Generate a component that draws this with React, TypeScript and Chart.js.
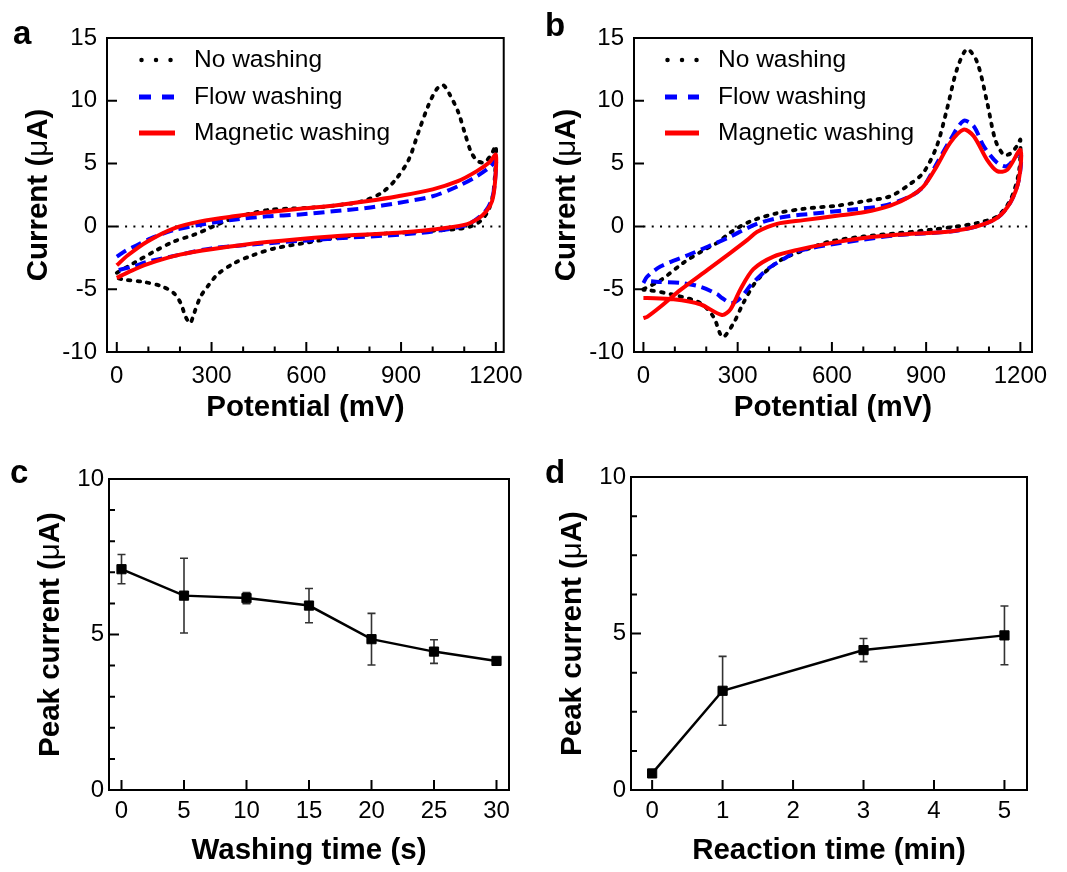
import React, { useEffect, useRef } from "react";
import { Chart, registerables } from "chart.js";

Chart.register(...registerables);

const FONT = '"Liberation Sans", Arial, Helvetica, sans-serif';

// ---------------- data ----------------
const seriesNames = ["No washing", "Flow washing", "Magnetic washing"];
const seriesColors = ["#000000", "#0000ff", "#ff0000"];

// Panel a – cyclic voltammograms (potential mV, current µA)
const aNoWashE = [0, 55, 118, 181, 244, 306, 369, 432, 484, 550, 600, 650, 700, 750, 790, 840, 882, 924, 955, 986, 1012, 1033, 1054, 1081, 1101, 1122, 1143, 1164, 1185, 1200, 1197, 1190, 1175, 1150, 1120, 1080, 1000, 900, 800, 700, 600, 500, 430, 370, 320, 290, 265, 245, 232, 218, 202, 180, 140, 80, 25, 0];
const aNoWashI = [-3.7, -2.9, -2.0, -1.2, -0.67, 0.0, 0.67, 1.07, 1.33, 1.42, 1.47, 1.55, 1.7, 1.85, 2.1, 2.7, 3.7, 5.3, 7.5, 9.6, 10.9, 11.25, 10.5, 9.1, 7.5, 5.9, 5.2, 5.1, 5.7, 6.4, 4.0, 2.4, 1.2, 0.4, 0.0, -0.2, -0.35, -0.5, -0.65, -0.9, -1.3, -1.75, -2.3, -2.95, -3.8, -4.7, -5.6, -6.9, -7.7, -7.2, -6.1, -5.3, -4.75, -4.4, -4.25, -4.1];
const aFlowE = [0, 30, 55, 108, 180, 265, 370, 475, 580, 685, 790, 890, 1000, 1080, 1140, 1185, 1200, 1197, 1188, 1170, 1140, 1100, 1000, 900, 700, 500, 300, 200, 100, 50, 0];
const aFlowI = [-2.4, -1.9, -1.6, -0.95, -0.3, 0.13, 0.53, 0.8, 0.95, 1.2, 1.47, 1.87, 2.4, 3.2, 4.0, 4.8, 5.3, 3.5, 2.2, 1.3, 0.6, 0.05, -0.4, -0.65, -0.95, -1.3, -1.75, -2.25, -2.8, -3.2, -3.5];
const aMagE = [0, 35, 97, 181, 265, 370, 475, 580, 685, 790, 890, 1000, 1080, 1140, 1180, 1200, 1197, 1188, 1170, 1143, 1100, 1000, 890, 680, 475, 305, 200, 97, 40, 0];
const aMagI = [-3.1, -2.3, -1.2, -0.15, 0.4, 0.8, 1.12, 1.4, 1.65, 2.0, 2.4, 2.95, 3.6, 4.4, 5.1, 5.7, 3.4, 2.0, 1.2, 0.6, 0.12, -0.25, -0.5, -0.8, -1.25, -1.8, -2.25, -3.0, -3.6, -4.1];

// Panel b – cyclic voltammograms
const bNoWashE = [0, 54, 127, 191, 235, 276, 340, 425, 510, 616, 701, 786, 850, 892, 934, 966, 998, 1030, 1062, 1094, 1120, 1147, 1168, 1189, 1200, 1195, 1168, 1126, 1062, 998, 913, 807, 701, 595, 522, 436, 363, 318, 287, 252, 223, 181, 96, 12, 0];
const bNoWashI = [-5.0, -4.3, -2.9, -1.9, -1.3, -0.5, 0.4, 1.05, 1.4, 1.65, 2.0, 2.4, 3.4, 4.3, 6.4, 9.3, 12.5, 14.1, 13.1, 9.9, 6.9, 5.7, 5.8, 6.4, 6.9, 4.3, 2.1, 0.8, 0.27, 0.0, -0.27, -0.55, -0.8, -1.2, -1.8, -2.7, -4.25, -6.1, -7.7, -8.8, -7.2, -6.1, -5.45, -5.05, -5.05];
const bFlowE = [0, 12, 54, 150, 265, 361, 446, 552, 658, 764, 850, 892, 934, 977, 1019, 1051, 1083, 1126, 1158, 1200, 1195, 1168, 1126, 1062, 977, 807, 701, 595, 489, 446, 395, 341, 309, 280, 250, 235, 181, 118, 40, 0];
const bFlowI = [-4.5, -4.0, -3.2, -2.2, -0.95, 0.2, 0.75, 1.05, 1.33, 1.65, 2.4, 3.2, 5.0, 6.9, 8.4, 8.0, 6.4, 5.07, 4.8, 5.9, 3.7, 1.9, 0.67, 0.0, -0.4, -0.7, -1.05, -1.45, -2.0, -2.6, -3.4, -4.7, -5.7, -6.1, -5.7, -5.4, -4.8, -4.5, -4.4, -4.3];
const bMagE = [0, 12, 54, 118, 204, 277, 331, 361, 425, 510, 616, 701, 786, 850, 892, 934, 977, 1019, 1051, 1094, 1126, 1158, 1200, 1195, 1168, 1126, 1062, 977, 807, 701, 595, 490, 414, 350, 309, 277, 250, 181, 96, 12, 0];
const bMagI = [-7.3, -7.2, -6.4, -5.05, -3.46, -2.1, -1.07, -0.45, 0.2, 0.5, 0.85, 1.12, 1.65, 2.4, 3.2, 4.8, 6.67, 7.7, 7.2, 5.3, 4.4, 4.5, 6.1, 3.7, 1.9, 0.67, 0.0, -0.4, -0.67, -0.93, -1.33, -1.87, -2.4, -3.4, -5.0, -6.6, -7.05, -6.2, -5.8, -5.7, -5.7];

// Panel c – peak current vs washing time
const cTime = [0, 5, 10, 15, 20, 25, 30];
const cPeak = [7.1, 6.25, 6.17, 5.93, 4.85, 4.45, 4.15];
const cErr = [0.47, 1.2, 0.18, 0.55, 0.83, 0.38, 0.08];

// Panel d – peak current vs reaction time
const dTime = [0, 1, 3, 5];
const dPeak = [0.53, 3.17, 4.47, 4.94];
const dErr = [0.1, 1.1, 0.37, 0.94];

// tick values
const cvXTicks = [0, 300, 600, 900, 1200];
const cvXMinor = [100, 200, 400, 500, 700, 800, 1000, 1100];
const cvYTicks = [-10, -5, 0, 5, 10, 15];
const cvYMarks = [-5, 0, 5, 10];
const cXTicks = [0, 5, 10, 15, 20, 25, 30];
const dXTicks = [0, 1, 2, 3, 4, 5];
const peakYTicks = [0, 5, 10];
const cYMinor = [1, 2, 3, 4, 6, 7, 8, 9];
const dYMinor = [1.25, 2.5, 3.75, 6.25, 7.5, 8.75];

// ---------------- helpers ----------------
type Pt = { x: number; y: number };
const zip = (xs: number[], ys: number[]): Pt[] => xs.map((x, i) => ({ x, y: ys[i] }));

interface Geo { left: number; top: number; w: number; h: number; padTop: number; padRight: number; yW: number; xH: number; }

interface DecoCfg {
  letter: string; letterX: number; letterY: number;
  yTitle: { t: string; bold: boolean }[]; yTitleX: number;
  xMajor: number[]; xMinor: number[]; yMajor: number[]; yMinor: number[];
  zeroLine?: boolean;
  legend?: { sx0: number; sx1: number; tx: number; rows: number[] };
  errors?: { xs: number[]; ys: number[]; es: number[] };
}

function makeDeco(cfg: DecoCfg) {
  return {
    id: "deco",
    beforeDatasetsDraw(chart: any) {
      const { ctx, chartArea: ca, scales } = chart;
      const xs = scales.x, ys = scales.y;
      ctx.save();
      if (cfg.zeroLine) {
        const py = ys.getPixelForValue(0);
        ctx.strokeStyle = "#000"; ctx.lineWidth = 2; ctx.setLineDash([2, 6.3]);
        ctx.beginPath(); ctx.moveTo(xs.getPixelForValue(0), py); ctx.lineTo(ca.right - 3, py); ctx.stroke();
        ctx.setLineDash([]);
      }
      if (cfg.errors) {
        ctx.strokeStyle = "#333"; ctx.lineWidth = 1.6;
        const { xs: ex, ys: ey, es } = cfg.errors;
        ex.forEach((xv, i) => {
          const px = xs.getPixelForValue(xv);
          const top = ys.getPixelForValue(ey[i] + es[i]);
          const bot = ys.getPixelForValue(ey[i] - es[i]);
          ctx.beginPath();
          ctx.moveTo(px, top); ctx.lineTo(px, bot);
          ctx.moveTo(px - 4, top); ctx.lineTo(px + 4, top);
          ctx.moveTo(px - 4, bot); ctx.lineTo(px + 4, bot);
          ctx.stroke();
        });
      }
      ctx.restore();
    },
    afterDatasetsDraw(chart: any) {
      const { ctx, chartArea: ca, scales } = chart;
      const xs = scales.x, ys = scales.y;
      ctx.save();
      ctx.strokeStyle = "#000"; ctx.lineWidth = 2; ctx.setLineDash([]);
      ctx.strokeRect(ca.left, ca.top, ca.right - ca.left, ca.bottom - ca.top);
      ctx.beginPath();
      cfg.xMajor.forEach(v => { const p = xs.getPixelForValue(v); ctx.moveTo(p, ca.bottom); ctx.lineTo(p, ca.bottom - 10); });
      cfg.xMinor.forEach(v => { const p = xs.getPixelForValue(v); ctx.moveTo(p, ca.bottom); ctx.lineTo(p, ca.bottom - 5.5); });
      cfg.yMajor.forEach(v => { const p = ys.getPixelForValue(v); ctx.moveTo(ca.left, p); ctx.lineTo(ca.left + 10, p); });
      cfg.yMinor.forEach(v => { const p = ys.getPixelForValue(v); ctx.moveTo(ca.left, p); ctx.lineTo(ca.left + 6, p); });
      ctx.stroke();
      ctx.restore();
    },
    afterDraw(chart: any) {
      const { ctx, chartArea: ca } = chart;
      ctx.save();
      ctx.fillStyle = "#000";
      // panel letter
      ctx.font = `bold 33px ${FONT}`;
      ctx.textAlign = "left"; ctx.textBaseline = "alphabetic";
      ctx.fillText(cfg.letter, cfg.letterX, cfg.letterY);
      // y title with mixed weights
      const size = 29.5;
      const widths = cfg.yTitle.map(p => { ctx.font = `${p.bold ? "bold " : ""}${size}px ${FONT}`; return ctx.measureText(p.t).width; });
      const total = widths.reduce((a, b) => a + b, 0);
      ctx.translate(cfg.yTitleX, (ca.top + ca.bottom) / 2);
      ctx.rotate(-Math.PI / 2);
      let xp = -total / 2;
      cfg.yTitle.forEach((p, i) => {
        ctx.font = `${p.bold ? "bold " : ""}${size}px ${FONT}`;
        ctx.fillText(p.t, xp, 0);
        xp += widths[i];
      });
      ctx.restore();
      // legend
      if (cfg.legend) {
        const lg = cfg.legend;
        ctx.save();
        seriesNames.forEach((name, i) => {
          const y = lg.rows[i];
          ctx.strokeStyle = seriesColors[i];
          ctx.beginPath();
          if (i === 0) {
            ctx.lineWidth = 4.5; ctx.lineCap = "round"; ctx.setLineDash([0.01, 14.5]);
            ctx.moveTo(lg.sx0 + 2.5, y); ctx.lineTo(lg.sx1, y);
          } else if (i === 1) {
            ctx.lineWidth = 5; ctx.lineCap = "butt"; ctx.setLineDash([12, 11]);
            ctx.moveTo(lg.sx0, y); ctx.lineTo(lg.sx1, y);
          } else {
            ctx.lineWidth = 5; ctx.lineCap = "butt"; ctx.setLineDash([]);
            ctx.moveTo(lg.sx0, y); ctx.lineTo(lg.sx1, y);
          }
          ctx.stroke();
          ctx.setLineDash([]);
          ctx.fillStyle = "#000";
          ctx.font = `24.5px ${FONT}`;
          ctx.textAlign = "left"; ctx.textBaseline = "middle";
          ctx.fillText(name, lg.tx, y);
        });
        ctx.restore();
      }
    },
  };
}

function xScale(min: number, max: number, tickVals: number[], pad: number, title: string, titlePad: number, xH: number) {
  return {
    type: "linear", min, max,
    grid: { display: false, drawTicks: false },
    border: { display: false },
    afterBuildTicks: (s: any) => { s.ticks = tickVals.map(v => ({ value: v })); },
    afterFit: (s: any) => { s.height = xH; },
    ticks: { color: "#000", font: { family: FONT, size: 24 }, padding: pad, maxRotation: 0, autoSkip: false, callback: (v: any) => String(v) },
    title: { display: true, text: title, color: "#000", font: { family: FONT, size: 29.5, weight: "bold" }, padding: { top: 0, bottom: titlePad } },
  };
}

function yScale(min: number, max: number, tickVals: number[], pad: number, yW: number) {
  return {
    type: "linear", min, max,
    grid: { display: false, drawTicks: false },
    border: { display: false },
    afterBuildTicks: (s: any) => { s.ticks = tickVals.map(v => ({ value: v })); },
    afterFit: (s: any) => { s.width = yW; },
    ticks: { color: "#000", font: { family: FONT, size: 24 }, padding: pad, autoSkip: false, callback: (v: any) => String(v) },
  };
}

function baseOptions(g: Geo, x: any, y: any) {
  return {
    animation: false, responsive: false, maintainAspectRatio: false, events: [],
    layout: { padding: { top: g.padTop, right: g.padRight, left: 0, bottom: 0 } },
    plugins: { legend: { display: false }, tooltip: { enabled: false } },
    scales: { x, y },
  };
}

function cvDatasets(ne: number[], ni: number[], fe: number[], fi: number[], me: number[], mi: number[]) {
  const common = { showLine: true, pointRadius: 0, pointHoverRadius: 0, tension: 0.3, fill: false, borderJoinStyle: "round" };
  return [
    { ...common, label: seriesNames[0], data: zip(ne, ni), borderColor: seriesColors[0], borderWidth: 3.8, borderDash: [2.5, 7], borderCapStyle: "round", order: 2 },
    { ...common, label: seriesNames[1], data: zip(fe, fi), borderColor: seriesColors[1], borderWidth: 4, borderDash: [11, 6], borderCapStyle: "butt", order: 1 },
    { ...common, label: seriesNames[2], data: zip(me, mi), borderColor: seriesColors[2], borderWidth: 4, order: 0 },
  ];
}

function peakDataset(xs: number[], ys: number[]) {
  return [{
    label: "Peak current", data: zip(xs, ys), showLine: true, borderColor: "#000", borderWidth: 2.5, tension: 0,
    pointStyle: "rect", pointRadius: 6.5, pointHoverRadius: 6.5, pointBackgroundColor: "#000", pointBorderColor: "#000", pointBorderWidth: 1,
  }];
}

const geoA: Geo = { left: 0, top: 0, w: 533, h: 440, padTop: 38, padRight: 24, yW: 107, xH: 88 };
const geoB: Geo = { left: 533, top: 0, w: 534, h: 440, padTop: 38, padRight: 35, yW: 101, xH: 88 };
const geoC: Geo = { left: 0, top: 440, w: 533, h: 432, padTop: 39, padRight: 24, yW: 109, xH: 82 };
const geoD: Geo = { left: 533, top: 440, w: 534, h: 432, padTop: 37, padRight: 40, yW: 98, xH: 82 };

const currentTitle = [{ t: "Current (", bold: true }, { t: "\u03bc", bold: false }, { t: "A)", bold: true }];
const peakTitle = [{ t: "Peak current (", bold: true }, { t: "\u03bc", bold: false }, { t: "A)", bold: true }];

function buildConfigs(): any[] {
  const a = {
    type: "scatter",
    data: { datasets: cvDatasets(aNoWashE, aNoWashI, aFlowE, aFlowI, aMagE, aMagI) },
    options: baseOptions(geoA, xScale(-31, 1225, cvXTicks, 10, "Potential (mV)", 14, geoA.xH), yScale(-10, 15, cvYTicks, 10, geoA.yW)),
    plugins: [makeDeco({
      letter: "a", letterX: 13, letterY: 44, yTitle: currentTitle, yTitleX: 47,
      xMajor: cvXTicks, xMinor: cvXMinor, yMajor: cvYMarks, yMinor: [], zeroLine: true,
      legend: { sx0: 139, sx1: 175, tx: 194, rows: [60, 97, 133] },
    })],
  };
  const b = {
    type: "scatter",
    data: { datasets: cvDatasets(bNoWashE, bNoWashI, bFlowE, bFlowI, bMagE, bMagI) },
    options: baseOptions(geoB, xScale(-30, 1237, cvXTicks, 10, "Potential (mV)", 14, geoB.xH), yScale(-10, 15, cvYTicks, 10, geoB.yW)),
    plugins: [makeDeco({
      letter: "b", letterX: 12, letterY: 36, yTitle: currentTitle, yTitleX: 42,
      xMajor: cvXTicks, xMinor: cvXMinor, yMajor: cvYMarks, yMinor: [], zeroLine: true,
      legend: { sx0: 132, sx1: 166, tx: 185, rows: [60, 97, 133] },
    })],
  };
  const c = {
    type: "scatter",
    data: { datasets: peakDataset(cTime, cPeak) },
    options: baseOptions(geoC, xScale(-1, 31, cXTicks, 7, "Washing time (s)", 3, geoC.xH), yScale(0, 10, peakYTicks, 5, geoC.yW)),
    plugins: [makeDeco({
      letter: "c", letterX: 10, letterY: 43, yTitle: peakTitle, yTitleX: 59,
      xMajor: cXTicks, xMinor: [], yMajor: [5], yMinor: cYMinor,
      errors: { xs: cTime, ys: cPeak, es: cErr },
    })],
  };
  const d = {
    type: "scatter",
    data: { datasets: peakDataset(dTime, dPeak) },
    options: baseOptions(geoD, xScale(-0.3, 5.32, dXTicks, 7, "Reaction time (min)", 3, geoD.xH), yScale(0, 10, peakYTicks, 5, geoD.yW)),
    plugins: [makeDeco({
      letter: "d", letterX: 12, letterY: 43, yTitle: peakTitle, yTitleX: 48,
      xMajor: dXTicks, xMinor: [], yMajor: [5], yMinor: dYMinor,
      errors: { xs: dTime, ys: dPeak, es: dErr },
    })],
  };
  return [a, b, c, d];
}

const geos = [geoA, geoB, geoC, geoD];

export default function App() {
  const refs = [useRef<HTMLCanvasElement>(null), useRef<HTMLCanvasElement>(null), useRef<HTMLCanvasElement>(null), useRef<HTMLCanvasElement>(null)];
  useEffect(() => {
    const cfgs = buildConfigs();
    const charts: Chart[] = [];
    refs.forEach((r, i) => {
      if (r.current) charts.push(new Chart(r.current, cfgs[i] as any));
    });
    return () => { charts.forEach(c => c.destroy()); };
  }, []);
  return (
    <div style={{ position: "absolute", left: 0, top: 0, width: 1067, height: 872, background: "#fff", overflow: "hidden" }}>
      {geos.map((g, i) => (
        <canvas key={i} ref={refs[i]} width={g.w} height={g.h}
          style={{ position: "absolute", left: g.left, top: g.top, width: g.w, height: g.h }} />
      ))}
    </div>
  );
}
